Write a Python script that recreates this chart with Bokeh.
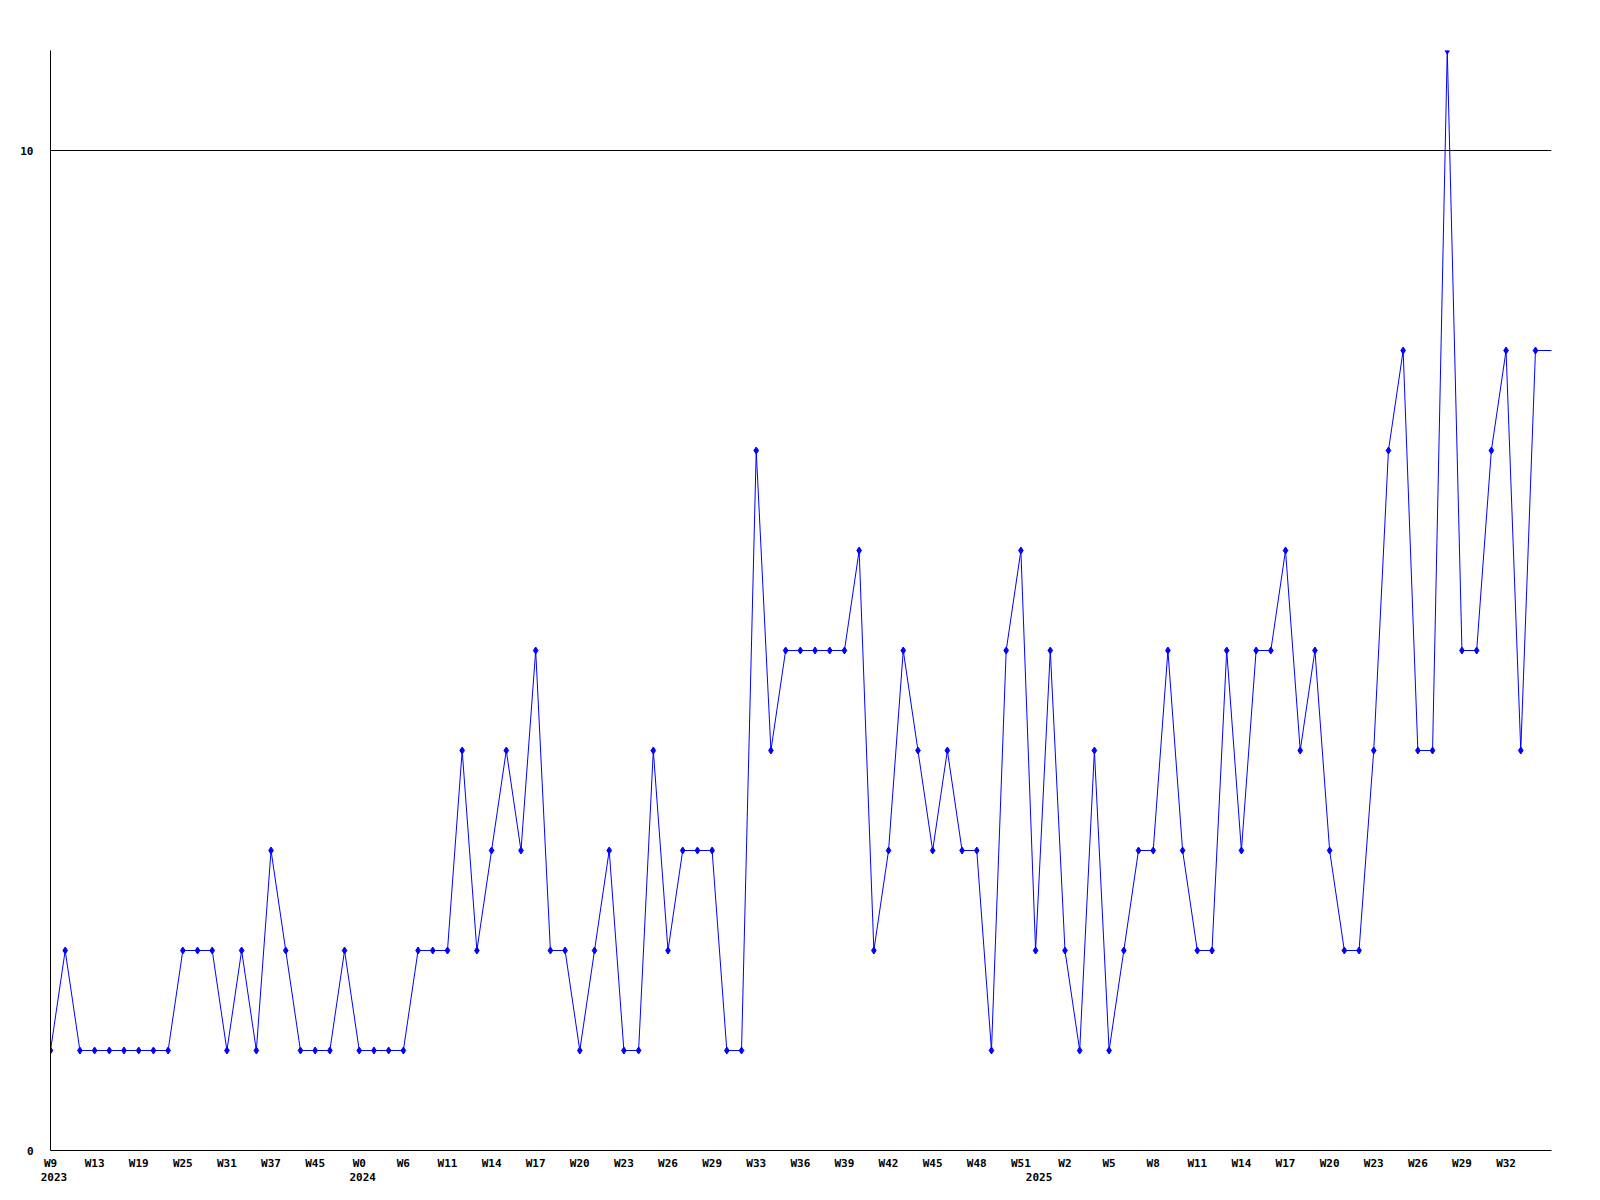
from bokeh.plotting import figure
from bokeh.models import Range1d, FixedTicker, LinearAxis, Grid
from bokeh.embed import file_html
from bokeh.resources import INLINE

# ---- data ----
values = [1, 2, 1, 1, 1, 1, 1, 1, 1, 2, 2, 2, 1, 2, 1, 3, 2, 1, 1, 1,
          2, 1, 1, 1, 1, 2, 2, 2, 4, 2, 3, 4, 3, 5, 2, 2, 1, 2, 3, 1,
          1, 4, 2, 3, 3, 3, 1, 1, 7, 4, 5, 5, 5, 5, 5, 6, 2, 3, 5, 4,
          3, 4, 3, 3, 1, 5, 6, 2, 5, 2, 1, 4, 1, 2, 3, 3, 5, 3, 2, 2,
          5, 3, 5, 5, 6, 4, 5, 3, 2, 2, 4, 7, 8, 4, 4, 11, 5, 5, 7, 8,
          4, 8]
week_labels = ["W9", "W13", "W19", "W25", "W31", "W37", "W45", "W0", "W6", "W11",
               "W14", "W17", "W20", "W23", "W26", "W29", "W33", "W36", "W39", "W42",
               "W45", "W48", "W51", "W2", "W5", "W8", "W11", "W14", "W17", "W20",
               "W23", "W26", "W29", "W32"]
label_step = 3
year_labels = ["2023", "2024", "2025"]
year_index = [0, 21, 67]
y_ticks = [0, 10]

# ---- layout ----
FRAME_W, FRAME_H = 1501, 1100
X_END = 102.09
px_per_unit = FRAME_W / X_END
year_shift = 3.5 / px_per_unit

x = list(range(len(values)))
# line continues flat to the right edge
line_x = x + [len(values) + 1]
line_y = values + [values[-1]]

p = figure(frame_width=FRAME_W, frame_height=FRAME_H,
           x_range=Range1d(0, X_END), y_range=Range1d(0, 11),
           output_backend="svg", toolbar_location=None,
           x_axis_location=None, y_axis_location=None,
           min_border_left=50, min_border_top=50, min_border_right=48, min_border_bottom=49)
p.outline_line_color = None
p.background_fill_color = "white"
p.border_fill_color = "white"
p.extra_x_ranges = {"yr": Range1d(-year_shift, X_END - year_shift)}

FONT = "DejaVu Sans Mono"

def style(ax):
    ax.major_tick_out = 0
    ax.major_tick_in = 0
    ax.minor_tick_out = 0
    ax.minor_tick_in = 0
    ax.major_label_text_font = FONT
    ax.major_label_text_font_size = "11px"
    ax.major_label_text_font_style = "bold"
    ax.major_label_text_color = "black"

# y axis
yax = LinearAxis(ticker=FixedTicker(ticks=y_ticks))
style(yax)
yax.axis_line_color = "black"
yax.major_label_standoff = 17
p.add_layout(yax, "left")

# week axis (with the x axis line)
wk_ticks = [i * label_step for i in range(len(week_labels))]
xax = LinearAxis(ticker=FixedTicker(ticks=wk_ticks))
style(xax)
xax.axis_line_color = "black"
xax.major_label_standoff = 6
xax.major_label_overrides = {t: lab for t, lab in zip(wk_ticks, week_labels)}
p.add_layout(xax, "below")

# year axis
yrax = LinearAxis(x_range_name="yr", ticker=FixedTicker(ticks=year_index))
style(yrax)
yrax.axis_line_color = None
yrax.major_label_standoff = 0
yrax.major_label_overrides = {t: lab for t, lab in zip(year_index, year_labels)}
p.add_layout(yrax, "below")

p.xgrid.visible = False
p.ygrid.visible = False
g = Grid(dimension=1, ticker=FixedTicker(ticks=[10]), grid_line_color="black", grid_line_width=1)
p.add_layout(g)

p.line(line_x, line_y, line_color="#0000ff", line_width=1)
p.scatter(x, values, marker="diamond", size=7, fill_color="#0000ff", line_color="#0000ff")

open("out.html", "w").write(file_html(p, INLINE))
